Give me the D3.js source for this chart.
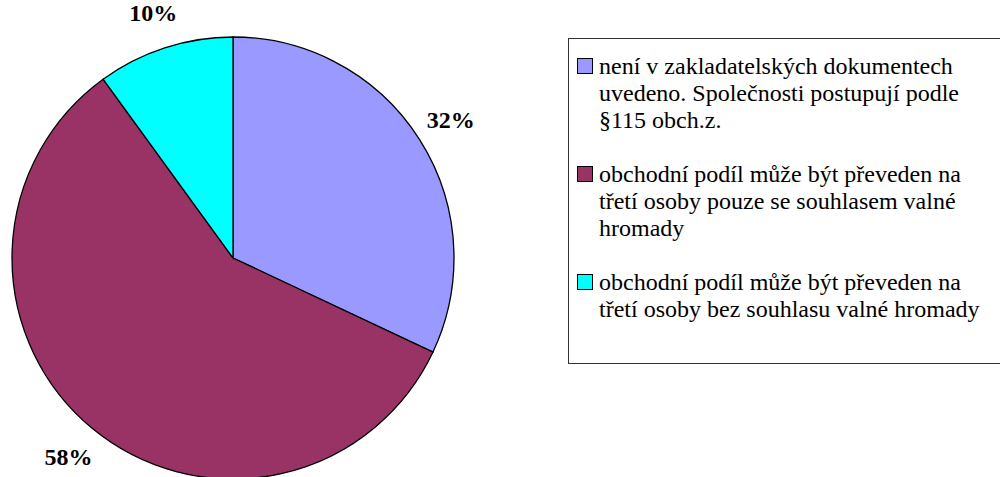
<!DOCTYPE html>
<html>
<head>
<meta charset="utf-8">
<script src="https://cdn.jsdelivr.net/npm/d3@7"></script>
<style>
  body { margin: 0; background: #fff; }
</style>
</head>
<body>
<div id="chart"></div>
<script>
// data
var categories = ["a", "b", "c"];
var values = [32, 58, 10];
var valueLabels = ["32%", "58%", "10%"];
var colors = ["#9999FF", "#993366", "#00FFFF"];
var legendLines = [
  ["není v zakladatelských dokumentech", "uvedeno. Společnosti postupují podle", "§115 obch.z."],
  ["obchodní podíl může být převeden na", "třetí osoby pouze se souhlasem valné", "hromady"],
  ["obchodní podíl může být převeden na", "třetí osoby bez souhlasu valné hromady"]
];

var width = 1000, height = 477;
var cx = 233, cy = 258, radius = 221;
var serif = "'Liberation Serif', Tinos, 'Times New Roman', Times, 'DejaVu Serif', serif";

var svg = d3.select("#chart")
  .append("svg")
    .attr("width", width)
    .attr("height", height)
    .style("font-family", serif);

var pie = d3.pie().sort(null).value(function(d) { return d; });
var arcs = pie(values);

var arc = d3.arc().innerRadius(0).outerRadius(radius);
var labelArc = d3.arc().innerRadius(258).outerRadius(258);

var g = svg.append("g")
  .attr("transform", "translate(" + cx + "," + cy + ")");

g.selectAll("path")
  .data(arcs)
  .enter().append("path")
    .attr("d", arc)
    .attr("fill", function(d, i) { return colors[i]; })
    .attr("stroke", "#000")
    .attr("stroke-width", 1.3);

g.selectAll("text.lbl")
  .data(arcs)
  .enter().append("text")
    .attr("class", "lbl")
    .attr("transform", function(d) { return "translate(" + labelArc.centroid(d) + ")"; })
    .attr("text-anchor", "middle")
    .attr("dy", "0.35em")
    .style("font-family", serif)
    .style("font-size", "24px")
    .style("font-weight", "bold")
    .text(function(d, i) { return valueLabels[i]; });

// legend
var lineH = 27;
var legend = svg.append("g");
legend.append("rect")
  .attr("x", 568.5)
  .attr("y", 38.5)
  .attr("width", 450)
  .attr("height", 325)
  .attr("fill", "#fff")
  .attr("stroke", "#333")
  .attr("stroke-width", 1);

var baseline = 74;
legendLines.forEach(function(lines, i) {
  legend.append("rect")
    .attr("x", 577.5)
    .attr("y", baseline - 16 + 0.5)
    .attr("width", 15)
    .attr("height", 15)
    .attr("fill", colors[i])
    .attr("stroke", "#000")
    .attr("stroke-width", 1);
  var t = legend.append("text")
    .attr("x", 599)
    .attr("y", baseline)
    .style("font-family", serif)
    .style("font-size", "24px");
  lines.forEach(function(line, j) {
    t.append("tspan")
      .attr("x", 599)
      .attr("y", baseline + j * lineH)
      .text(line);
  });
  baseline += 4 * lineH;
});
</script>
</body>
</html>
